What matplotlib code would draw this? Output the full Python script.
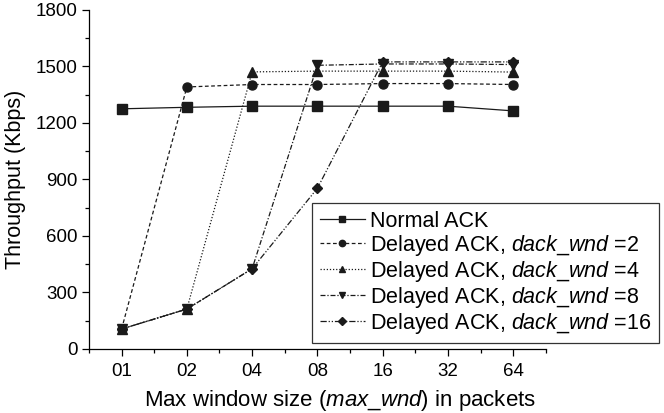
import matplotlib
matplotlib.use("Agg")
import matplotlib.pyplot as plt
from matplotlib.ticker import MultipleLocator

plt.rcParams["font.family"] = ["Liberation Sans", "DejaVu Sans"]
plt.rcParams["mathtext.fontset"] = "custom"
plt.rcParams["mathtext.rm"] = "Liberation Sans"
plt.rcParams["mathtext.it"] = "Liberation Sans:italic"

window_labels = ["01", "02", "04", "08", "16", "32", "64"]

normal_ack = [1275, 1283, 1289, 1289, 1289, 1289, 1264]
dack_2 = [106, 1391, 1404, 1404, 1409, 1409, 1404]
dack_4 = [106, 212, 1471, 1475, 1475, 1475, 1470]
dack_8 = [106, 212, 426, 1506, 1513, 1513, 1510]
dack_16 = [106, 212, 426, 853, 1524, 1524, 1524]

series = [
    (normal_ack, "Normal ACK", "-", "s"),
    (dack_2, r"Delayed ACK, $\mathit{dack\_wnd}$ =2", (0, (3, 2)), "o"),
    (dack_4, r"Delayed ACK, $\mathit{dack\_wnd}$ =4", (0, (1, 1.5)), "^"),
    (dack_8, r"Delayed ACK, $\mathit{dack\_wnd}$ =8", (0, (4, 1.5, 1, 1.5)), "v"),
    (dack_16, r"Delayed ACK, $\mathit{dack\_wnd}$ =16", (0, (5, 1.5, 1, 1.5, 1, 1.5)), "D"),
]

fig = plt.figure(figsize=(6.64, 4.13), dpi=100)
ax = fig.add_axes([0.134, 0.155, 0.688, 0.821])

x = list(range(len(window_labels)))
for values, label, ls, marker in series:
    ax.plot(
        x,
        values,
        linestyle=ls,
        marker=marker,
        color="#1a1a1a",
        linewidth=0.9,
        markersize=6.5 if marker != "D" else 5.5,
        label=label,
    )

ax.set_xlim(-0.5, 6.5)
ax.set_ylim(0, 1800)
ax.set_xticks(x)
ax.set_xticklabels(window_labels)
ax.xaxis.set_minor_locator(MultipleLocator(0.5))
ax.yaxis.set_major_locator(MultipleLocator(300))
ax.yaxis.set_minor_locator(MultipleLocator(150))
ax.tick_params(which="both", direction="out", labelsize=13.5, width=0.9, pad=3)
ax.tick_params(axis="x", which="major", pad=5)
ax.tick_params(which="major", length=5)
ax.tick_params(which="minor", length=3)

for side in ["top", "right"]:
    ax.spines[side].set_visible(False)
for side in ["left", "bottom"]:
    ax.spines[side].set_linewidth(0.9)

ax.set_xlabel(r"Max window size ($\mathit{max\_wnd}$) in packets", fontsize=16, labelpad=6)
ax.xaxis.label.set_x(0.55)
ax.set_ylabel("Throughput (Kbps)", fontsize=15.5, labelpad=7)

leg = ax.legend(
    loc="upper left",
    bbox_to_anchor=(312 / 664, 1 - 203 / 413),
    bbox_transform=fig.transFigure,
    fontsize=15.5,
    fancybox=False,
    framealpha=1,
    edgecolor="#333333",
    borderaxespad=0,
    handlelength=2.1,
    handletextpad=0.25,
    labelspacing=0.05,
    borderpad=0.35,
    markerscale=0.7,
)
leg.get_frame().set_linewidth(0.9)

fig.savefig("out.png", dpi=100)
